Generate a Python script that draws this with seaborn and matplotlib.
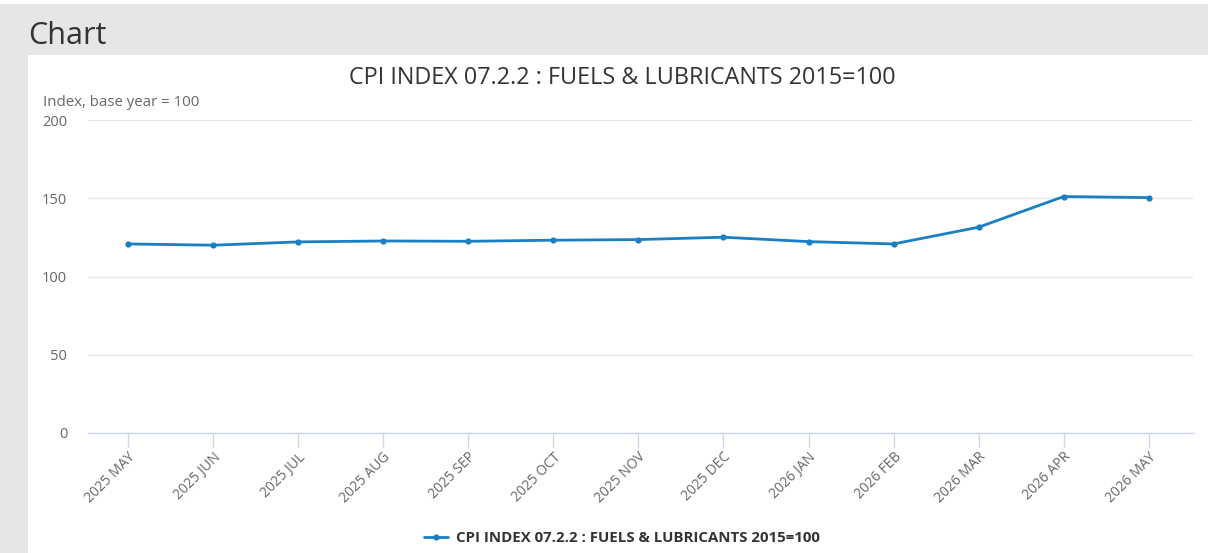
import matplotlib.pyplot as plt
import matplotlib.patches as mpatches
import seaborn as sns
import pandas as pd

# dane
months = ['2025 MAY', '2025 JUN', '2025 JUL', '2025 AUG', '2025 SEP', '2025 OCT',
          '2025 NOV', '2025 DEC', '2026 JAN', '2026 FEB', '2026 MAR', '2026 APR', '2026 MAY']
cpi_values = [120.8, 120.0, 122.1, 122.7, 122.5, 123.2, 123.6, 125.1, 122.3, 120.8, 131.5, 151.1, 150.4]
y_ticks = [0, 50, 100, 150, 200]

series_name = 'CPI INDEX 07.2.2 : FUELS & LUBRICANTS 2015=100'
line_color = '#1a7fc3'

df = pd.DataFrame({'Month': months, 'Value': cpi_values, 'pos': range(len(months))})

sns.set_style('white')
plt.rcParams['font.family'] = ['Open Sans', 'DejaVu Sans']

fig = plt.figure(figsize=(12.08, 5.53), dpi=100)
fig.patch.set_facecolor('#e6e6e6')

# biały panel + górny pasek
fig.patches.append(mpatches.Rectangle((28 / 1208, 0), 1, 1 - 55 / 553, transform=fig.transFigure,
                                      facecolor='white', edgecolor='none', zorder=-5))
fig.patches.append(mpatches.Rectangle((0, 1 - 4 / 553), 1, 4 / 553, transform=fig.transFigure,
                                      facecolor='white', edgecolor='none', zorder=-5))

fig.text(28 / 1208, 1 - 36 / 553, 'Chart', fontsize=22, color='#333333', va='center', ha='left')

ax = fig.add_axes([88 / 1208, 1 - 433 / 553, (1193 - 88) / 1208, (433 - 120) / 553])
ax.set_facecolor('none')

sns.lineplot(data=df, x='pos', y='Value', ax=ax, color=line_color, linewidth=2.0,
             marker='o', markersize=4.5, markeredgewidth=0, label=series_name, legend=False)

ax.set_ylim(0, 200)
ax.set_yticks(y_ticks)
ax.set_xlim(-0.47, 12.52)
ax.set_xticks(range(len(months)))
ax.set_xticklabels(months, rotation=45, ha='right', rotation_mode='anchor')

ax.grid(axis='y', color='#e6e6e6', linewidth=1)
ax.set_axisbelow(True)
for s in ['top', 'right', 'left']:
    ax.spines[s].set_visible(False)
ax.spines['bottom'].set_color('#ccd6eb')
ax.spines['bottom'].set_linewidth(1)

ax.tick_params(axis='x', bottom=True, colors='#ccd6eb', length=10, width=1, labelcolor='#666666',
               labelsize=10, pad=2, direction='out')
ax.tick_params(axis='y', left=False, length=0, labelcolor='#666666', labelsize=10.5, pad=15)
ax.set_xlabel('')
ax.set_ylabel('')

fig.text(622 / 1208, 1 - 78 / 553, series_name, fontsize=16.8, color='#333333', ha='center', va='center')
fig.text(43 / 1208, 1 - 102 / 553, 'Index, base year = 100', fontsize=10.8, color='#666666',
         ha='left', va='center')

handles, labels = ax.get_legend_handles_labels()
fig.legend(handles, labels, loc='center', bbox_to_anchor=(622 / 1208, 1 - 538 / 553),
           frameon=False, prop={'weight': 'bold', 'size': 10.8}, labelcolor='#333333',
           handlelength=1.6, handletextpad=0.5)

fig.savefig('out.png', dpi=100, facecolor=fig.get_facecolor())
plt.close()
